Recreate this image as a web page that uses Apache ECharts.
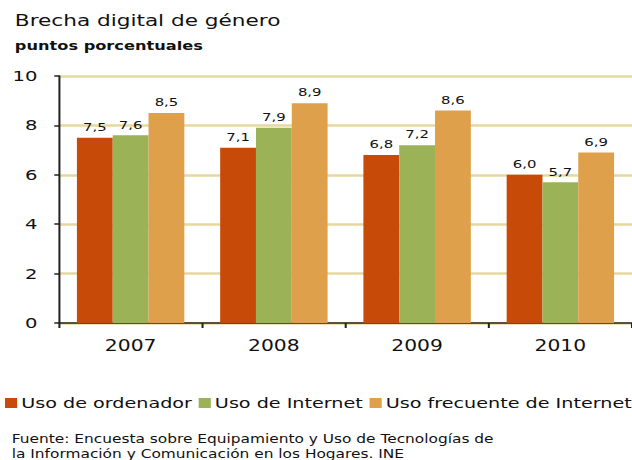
<!DOCTYPE html>
<html>
<head>
<meta charset="utf-8">
<script src="https://cdn.jsdelivr.net/npm/echarts@6/dist/echarts.min.js"></script>
<style>
  html, body { margin: 0; padding: 0; background: #fff; overflow: hidden; }
  /* the reference is drawn with a wide face, so the chart is laid out narrower and stretched sideways */
  #main { width: 468px; height: 460px; transform: scaleX(1.3504); transform-origin: 0 0; }
</style>
</head>
<body>
<div id="main"></div>
<script>
// data
var years = ['2007', '2008', '2009', '2010'];
var seriesNames = ['Uso de ordenador', 'Uso de Internet', 'Uso frecuente de Internet'];
var ordenador = [7.5, 7.1, 6.8, 6.0];
var internet = [7.6, 7.9, 7.2, 5.7];
var frecuente = [8.5, 8.9, 8.6, 6.9];
var yTicks = [0, 2, 4, 6, 8, 10];

var colors = ['#c84a08', '#9cb256', '#dfa04b'];
var font = 'DejaVu Sans, Verdana, sans-serif';

function makeSeries(name, values, color){
    return {
        name: name,
        type: 'bar',
        data: values,
        barGap: '0%',
        barCategoryGap: '25%',
        itemStyle: { color: color },
        label: {
            show: true,
            position: 'top',
            distance: 5,
            color: '#111',
            fontFamily: font,
            fontSize: 11,
            formatter: function (p) { return p.value.toFixed(1).replace('.', ','); }
        }
    };
}

var chart = echarts.init(document.getElementById('main'), null, { renderer: 'svg' });

chart.setOption({
    animation: false,
    color: colors,
    title: [
        { text: 'Brecha digital de género', left: 6, top: 7,
          textStyle: { fontFamily: font, fontSize: 16, fontWeight: 'normal', color: '#111' } },
        { text: 'puntos porcentuales', left: 6, top: 35,
          textStyle: { fontFamily: font, fontSize: 12, fontWeight: 'bold', color: '#111' } },
        { text: 'Fuente: Encuesta sobre Equipamiento y Uso de Tecnologías de\nla Información y Comunicación en los Hogares. INE',
          left: 3.7, top: 426,
          textStyle: { fontFamily: font, fontSize: 11.4, fontWeight: 'normal', color: '#111', lineHeight: 15.5 } }
    ],
    legend: {
        left: 3.7, top: 396,
        padding: 0,
        itemWidth: 9, itemHeight: 10, itemGap: 5,
        icon: 'rect',
        textStyle: { fontFamily: font, fontSize: 14.2, color: '#111', padding: [0, 0, 0, -2] },
        data: seriesNames
    },
    grid: { left: 43.7, right: -3, top: 76, bottom: 137 },
    xAxis: {
        type: 'category',
        data: years,
        axisLine: { lineStyle: { color: '#222', width: 1.5 } },
        axisTick: { show: true, length: 5, lineStyle: { color: '#222', width: 1.5 } },
        axisLabel: { fontFamily: font, fontSize: 15, color: '#111', margin: 15 }
    },
    yAxis: {
        type: 'value',
        min: yTicks[0],
        max: yTicks[yTicks.length - 1],
        interval: 2,
        axisLine: { show: true, lineStyle: { color: '#222', width: 1.5 } },
        axisTick: { show: true, length: 3.5, lineStyle: { color: '#222', width: 1.5 } },
        axisLabel: { fontFamily: font, fontSize: 14.5, color: '#111', margin: 16 },
        splitLine: { lineStyle: { color: '#e6d8a0', width: 2.5 } }
    },
    series: [
        makeSeries(seriesNames[0], ordenador, colors[0]),
        makeSeries(seriesNames[1], internet, colors[1]),
        makeSeries(seriesNames[2], frecuente, colors[2])
    ]
});
</script>
</body>
</html>
